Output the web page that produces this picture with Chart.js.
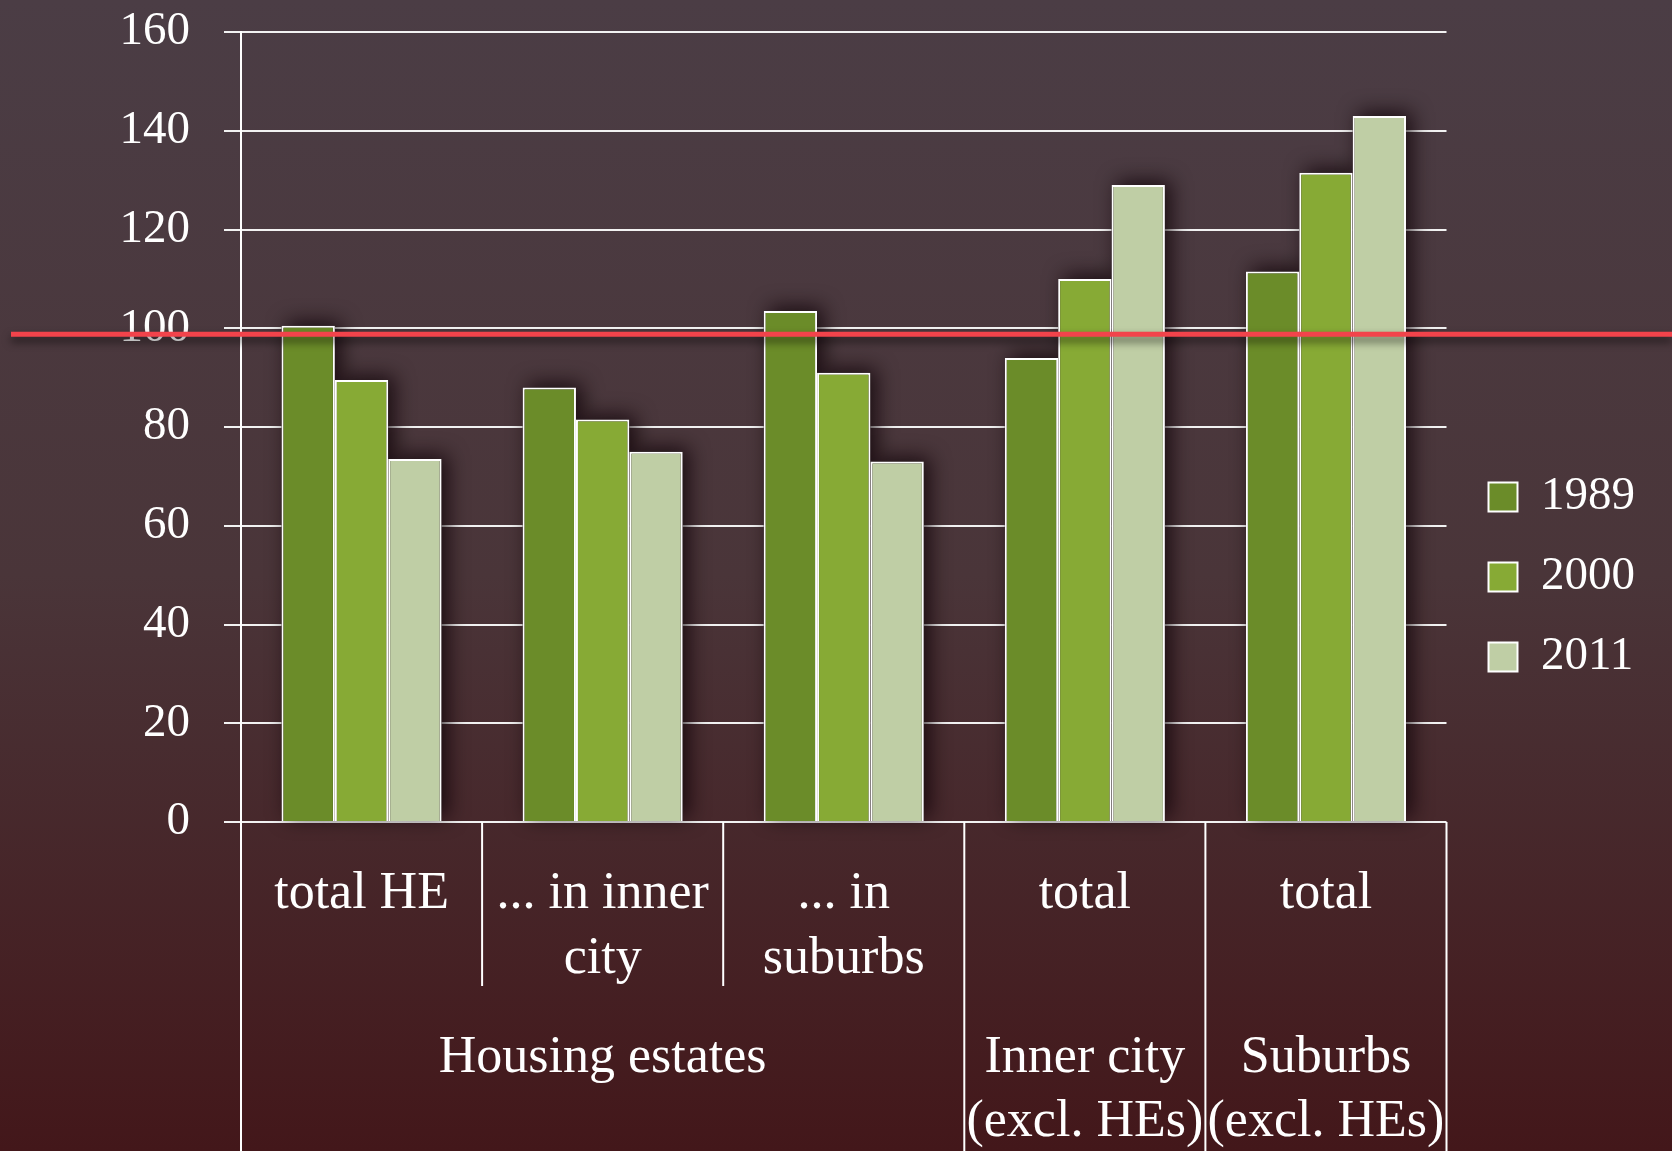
<!DOCTYPE html>
<html>
<head>
<meta charset="utf-8">
<script src="https://cdn.jsdelivr.net/npm/chart.js@4"></script>
<style>
  html, body { margin: 0; padding: 0; }
  body {
    width: 1672px; height: 1151px; overflow: hidden;
    background: linear-gradient(to bottom, #4b3d45 0%, #4a3539 50%, #43171a 100%);
  }
  canvas { display: block; }
</style>
</head>
<body>
<canvas id="myChart" width="1672" height="1151"></canvas>
<script>
const categories = ['total HE', ['... in inner', 'city'], ['... in', 'suburbs'], 'total', 'total'];
const groups = [['Housing estates'], ['Inner city', '(excl. HEs)'], ['Suburbs', '(excl. HEs)']];
const groupSpans = [3, 1, 1];
const years = ['1989', '2000', '2011'];
const v1989 = [100.5, 88, 103.5, 94, 111.5];
const v2000 = [89.5, 81.5, 91, 110, 131.5];
const v2011 = [73.5, 75, 73, 129, 143];
const yMin = 0, yMax = 160, yStep = 20;
const refLine = 98.8;

const colors = ['#6b8c29', '#87aa35', '#bfcea5'];
const serif = "'Liberation Serif', 'Times New Roman', serif";

// soft drop shadow behind the bars
const barShadow = {
	id: 'barShadow',
	beforeDatasetsDraw(chart) {
		const ctx = chart.ctx;
		ctx.save();
		ctx.shadowColor = 'rgba(15,3,8,0.8)';
		ctx.shadowBlur = 20;
		ctx.shadowOffsetX = 6;
		ctx.shadowOffsetY = -4;
		ctx.fillStyle = '#2e2024';
		chart.data.datasets.forEach((ds, i) => {
			chart.getDatasetMeta(i).data.forEach(bar => {
				const p = bar.getProps(['x', 'y', 'base', 'width']);
				ctx.fillRect(p.x - p.width / 2, p.y, p.width, p.base - p.y);
			});
		});
		ctx.restore();
	}
};

// red reference line across the whole picture
const redLine = {
	id: 'redLine',
	afterDatasetsDraw(chart) {
		const ctx = chart.ctx;
		const y = chart.scales.y.getPixelForValue(refLine);
		ctx.save();
		ctx.shadowColor = 'rgba(0,0,0,0.6)';
		ctx.shadowBlur = 8;
		ctx.shadowOffsetY = 5;
		ctx.strokeStyle = '#f2434b';
		ctx.lineWidth = 5;
		ctx.beginPath();
		ctx.moveTo(11, y);
		ctx.lineTo(chart.width, y);
		ctx.stroke();
		ctx.restore();
	}
};

// table-like lower axis: separators + group labels
const groupAxis = {
	id: 'groupAxis',
	afterDraw(chart) {
		const ctx = chart.ctx;
		const x = chart.scales.x;
		const top = chart.chartArea.bottom;
		const bottom = chart.height;
		const half = (x.getPixelForValue(1) - x.getPixelForValue(0)) / 2;
		ctx.save();
		ctx.strokeStyle = '#ffffff';
		ctx.lineWidth = 2;
		const ends = [];
		let k = 0;
		groupSpans.forEach(span => {
			for (let j = 0; j < span; j++) {
				ends.push({ idx: k + j, full: j === 0 });
			}
			k += span;
		});
		ends.forEach(e => {
			const px = x.getPixelForValue(e.idx) - half;
			ctx.beginPath();
			ctx.moveTo(px, top);
			ctx.lineTo(px, e.full ? bottom : top + 164);
			ctx.stroke();
		});
		const lastPx = x.getPixelForValue(categories.length - 1) + half;
		ctx.beginPath();
		ctx.moveTo(lastPx, top);
		ctx.lineTo(lastPx, bottom);
		ctx.stroke();

		ctx.fillStyle = '#ffffff';
		ctx.font = '52px ' + serif;
		ctx.textAlign = 'center';
		ctx.textBaseline = 'middle';
		k = 0;
		groups.forEach((lines, g) => {
			const span = groupSpans[g];
			const cx = (x.getPixelForValue(k) + x.getPixelForValue(k + span - 1)) / 2;
			lines.forEach((t, li) => ctx.fillText(t, cx, top + 236 + li * 64));
			k += span;
		});
		ctx.restore();
	}
};

const ctx = document.getElementById('myChart').getContext('2d');
let myChart = new Chart(ctx, {
	type: 'bar',
	data: {
		labels: categories,
		datasets: [
			{ label: years[0], data: v1989, backgroundColor: colors[0] },
			{ label: years[1], data: v2000, backgroundColor: colors[1] },
			{ label: years[2], data: v2011, backgroundColor: colors[2] }
		].map(d => Object.assign(d, {
			borderColor: '#ffffff',
			borderWidth: 2,
			categoryPercentage: 0.664,
			barPercentage: 1
		}))
	},
	options: {
		responsive: false,
		animation: false,
		layout: { padding: { top: 3, right: 27, left: 0, bottom: 0 } },
		plugins: {
			tooltip: { enabled: false },
			legend: {
				position: 'right',
				labels: {
					color: '#ffffff',
					font: { family: serif, size: 47 },
					boxWidth: 29,
					boxHeight: 29,
					padding: 33
				}
			}
		},
		scales: {
			x: {
				grid: { display: false, drawTicks: false },
				border: { display: false },
				ticks: {
					color: '#ffffff',
					font: { family: serif, size: 52, lineHeight: 1.25 },
					padding: 40,
					maxRotation: 0,
					autoSkip: false
				},
				afterFit: s => { s.height = 329; }
			},
			y: {
				min: yMin,
				max: yMax,
				ticks: {
					stepSize: yStep,
					color: '#ffffff',
					font: { family: serif, size: 47 },
					padding: 34
				},
				grid: { color: '#f2f2f2', lineWidth: 2, tickLength: 17 },
				border: { display: true, color: '#ffffff', width: 2 },
				afterFit: s => {
					s.width = 241;
					s.paddingTop = 32;
					s.paddingBottom = 0;
				}
			},
			gap: {
				type: 'linear',
				position: 'right',
				grid: { display: false, drawTicks: false },
				ticks: { display: false },
				border: { display: false },
				afterFit: s => { s.width = 9; }
			}
		}
	},
	plugins: [barShadow, redLine, groupAxis]
});
</script>
</body>
</html>
